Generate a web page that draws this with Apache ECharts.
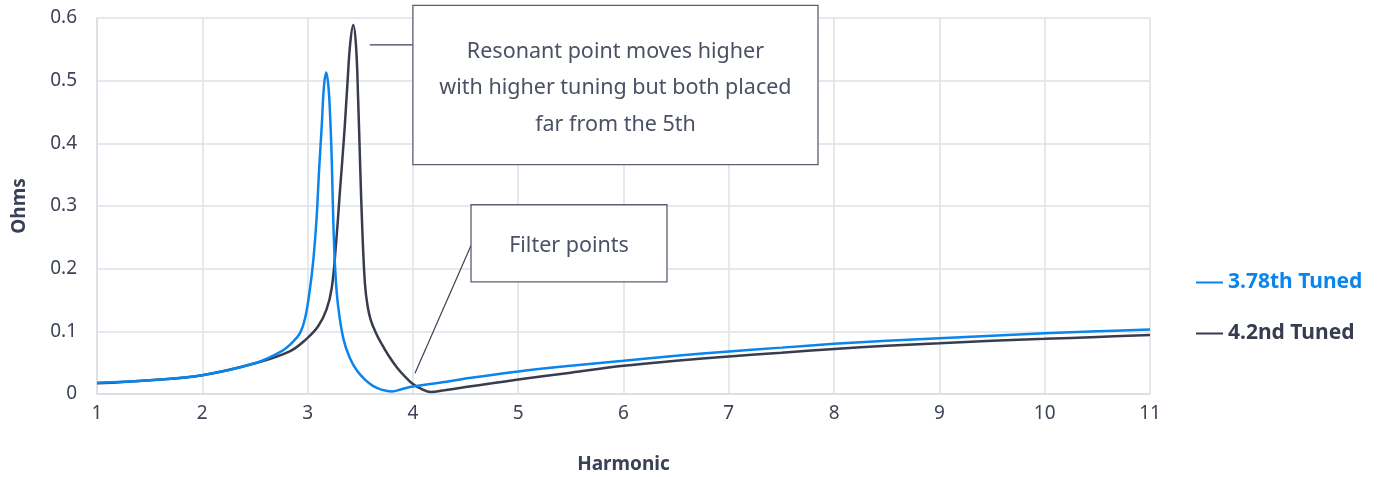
<!DOCTYPE html>
<html>
<head>
<meta charset="utf-8">
<script src="https://cdn.jsdelivr.net/npm/echarts@6/dist/echarts.min.js"></script>
<style>
html,body{margin:0;padding:0;background:#fff;}
#c{width:1383px;height:477px;}
</style>
</head>
<body>
<div id="c"></div>
<script>
// ---- data ----
var xTicks = [1, 2, 3, 4, 5, 6, 7, 8, 9, 10, 11];
var yTicks = [0, 0.1, 0.2, 0.3, 0.4, 0.5, 0.6];
var seriesNames = ['3.78th Tuned', '4.2nd Tuned'];

var tuned378Harmonic = [1.0, 1.5, 2.0, 2.5, 2.75, 2.86, 2.93, 2.975, 3.02, 3.055, 3.085, 3.11, 3.135, 3.155, 3.177, 3.198, 3.215, 3.23, 3.245, 3.265, 3.29, 3.34, 3.40, 3.47, 3.55, 3.62, 3.70, 3.80, 3.90, 4.0, 4.25, 4.6, 5.0, 5.5, 6.0, 6.5, 7.0, 7.5, 8.0, 8.5, 9.0, 9.5, 10.0, 10.5, 11.0];
var tuned378Ohms     = [0.018, 0.022, 0.030, 0.049, 0.068, 0.083, 0.098, 0.120, 0.165, 0.215, 0.280, 0.360, 0.430, 0.490, 0.513, 0.490, 0.440, 0.370, 0.270, 0.190, 0.140, 0.088, 0.058, 0.037, 0.022, 0.013, 0.007, 0.004, 0.008, 0.012, 0.018, 0.027, 0.036, 0.045, 0.053, 0.061, 0.068, 0.074, 0.080, 0.085, 0.089, 0.093, 0.097, 0.100, 0.103];

var tuned42Harmonic = [1.0, 1.5, 2.0, 2.5, 2.83, 2.99, 3.10, 3.18, 3.23, 3.27, 3.31, 3.35, 3.38, 3.405, 3.434, 3.46, 3.48, 3.50, 3.52, 3.545, 3.57, 3.60, 3.65, 3.70, 3.77, 3.85, 3.93, 4.0, 4.08, 4.17, 4.3, 4.5, 4.75, 5.0, 5.5, 6.0, 6.5, 7.0, 7.5, 8.0, 8.5, 9.0, 9.5, 10.0, 10.5, 11.0];
var tuned42Ohms     = [0.017, 0.022, 0.030, 0.049, 0.068, 0.088, 0.108, 0.135, 0.170, 0.240, 0.330, 0.420, 0.500, 0.560, 0.589, 0.555, 0.470, 0.360, 0.260, 0.175, 0.140, 0.118, 0.097, 0.081, 0.061, 0.042, 0.027, 0.016, 0.008, 0.003, 0.006, 0.011, 0.017, 0.023, 0.034, 0.045, 0.053, 0.060, 0.066, 0.072, 0.077, 0.081, 0.085, 0.088, 0.091, 0.094];

var note1Lines = ['Resonant point moves higher', 'with higher tuning but both placed', 'far from the 5th'];
var note2Lines = ['Filter points'];
// annotation boxes in data units: [xLeft, yTop, xRight, yBottom]
var note1Box = [4.0, 0.620, 7.847, 0.366];
var note2Box = [4.552, 0.302, 6.413, 0.179];
// leader lines in data units: [fromX, fromY, toX, toY]
var note1Leader = [3.59, 0.557, 4.0, 0.557];
var note2Leader = [4.02, 0.033, 4.552, 0.237];

var BLUE = '#0a85ee';
var DARK = '#373c4f';
var FONT = '"Noto Sans", "Open Sans", sans-serif';

function zip(a, b) { return a.map(function (v, i) { return [v, b[i]]; }); }

var chart = echarts.init(document.getElementById('c'));
chart.setOption({
  animation: false,
  backgroundColor: '#fff',
  textStyle: { fontFamily: FONT },
  grid: { left: 97, right: 233, top: 18, bottom: 83, containLabel: false, outerBoundsMode: 'none' },
  xAxis: {
    type: 'value', min: xTicks[0], max: xTicks[xTicks.length - 1], interval: 1,
    name: 'Harmonic', nameLocation: 'middle', nameGap: 61,
    nameTextStyle: { fontSize: 19, fontWeight: 'bold', color: '#3a4055', fontFamily: FONT },
    axisLine: { show: true, lineStyle: { color: '#d8dde5', width: 1.5 } },
    axisTick: { show: false },
    axisLabel: { fontSize: 19, color: '#3d4456', margin: 10, fontFamily: FONT },
    splitLine: { show: true, lineStyle: { color: '#dde2e9', width: 1.5 } }
  },
  yAxis: {
    type: 'value', min: yTicks[0], max: yTicks[yTicks.length - 1], interval: 0.1,
    name: 'Ohms', nameLocation: 'middle', nameGap: 68, nameRotate: 90,
    nameTextStyle: { fontSize: 19, fontWeight: 'bold', color: '#3a4055', fontFamily: FONT },
    axisLine: { show: true, lineStyle: { color: '#d8dde5', width: 1.5 } },
    axisTick: { show: false },
    axisLabel: { fontSize: 19, color: '#3d4456', margin: 20, fontFamily: FONT },
    splitLine: { show: true, lineStyle: { color: '#dde2e9', width: 1.5 } }
  },
  legend: {
    orient: 'vertical', left: 1196, top: 272, itemGap: 30, padding: 0,
    icon: 'rect', itemWidth: 27, itemHeight: 2,
    data: [
      { name: seriesNames[0], textStyle: { color: BLUE } },
      { name: seriesNames[1], textStyle: { color: DARK } }
    ],
    textStyle: { fontSize: 21, fontWeight: 'bold', fontFamily: FONT }
  },
  series: [
    {
      name: seriesNames[0], type: 'line', data: zip(tuned378Harmonic, tuned378Ohms),
      showSymbol: false, symbol: 'none', smooth: 0.4, sampling: null,
      lineStyle: { color: BLUE, width: 2.5 }, itemStyle: { color: BLUE }, z: 3
    },
    {
      name: seriesNames[1], type: 'line', data: zip(tuned42Harmonic, tuned42Ohms),
      showSymbol: false, symbol: 'none', smooth: 0.4, sampling: null,
      lineStyle: { color: DARK, width: 2.5 }, itemStyle: { color: DARK }, z: 2
    }
  ]
});

function px(x, y) { return chart.convertToPixel({ gridIndex: 0 }, [x, y]); }
function box(b, lines, lh) {
  var p1 = px(b[0], b[1]), p2 = px(b[2], b[3]);
  var w = p2[0] - p1[0], h = p2[1] - p1[1];
  var els = [{
    type: 'rect', shape: { x: p1[0], y: p1[1], width: w, height: h },
    style: { fill: '#fff', stroke: '#5a6070', lineWidth: 1.3 }, z: 10
  }];
  var cx = p1[0] + w / 2, cy = p1[1] + h / 2 + 3;
  var n = lines.length;
  lines.forEach(function (t, i) {
    els.push({
      type: 'text', x: cx, y: cy + (i - (n - 1) / 2) * lh, z: 11,
      style: { text: t, fontSize: 21.5, fontFamily: FONT, fill: '#4a5164', align: 'center', verticalAlign: 'middle' }
    });
  });
  return els;
}
function leader(l) {
  var a = px(l[0], l[1]), b = px(l[2], l[3]);
  return { type: 'line', shape: { x1: a[0], y1: a[1], x2: b[0], y2: b[1] }, style: { stroke: '#3d4254', lineWidth: 1.2 }, z: 9 };
}
var g = [leader(note1Leader), leader(note2Leader)]
  .concat(box(note1Box, note1Lines, 36.5))
  .concat(box(note2Box, note2Lines, 30));
chart.setOption({ graphic: g });
</script>
</body>
</html>
